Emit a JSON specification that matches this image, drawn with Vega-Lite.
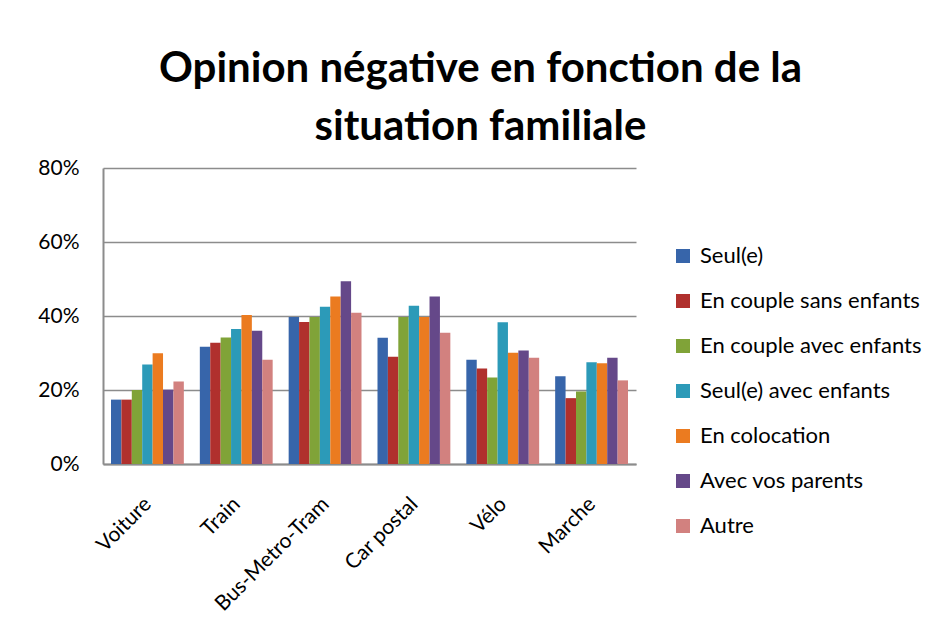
{
  "$schema": "https://vega.github.io/schema/vega-lite/v6.json",
  "width": 533,
  "height": 296,
  "autosize": {"type": "none"},
  "padding": {"left": 103, "top": 168, "right": 309, "bottom": 174},
  "background": "white",
  "title": {
    "text": ["Opinion négative en fonction de la", "situation familiale"],
    "font": "Lato",
    "fontSize": 42,
    "fontWeight": "bold",
    "color": "black",
    "anchor": "middle",
    "frame": "group",
    "dx": 111,
    "offset": 8,
    "lineHeight": 58
  },
  "data": {
    "values": [
      {"mode": "Voiture", "situation": "Seul(e)", "v": 0.174},
      {"mode": "Voiture", "situation": "En couple sans enfants", "v": 0.174},
      {"mode": "Voiture", "situation": "En couple avec enfants", "v": 0.200},
      {"mode": "Voiture", "situation": "Seul(e) avec enfants", "v": 0.269},
      {"mode": "Voiture", "situation": "En colocation", "v": 0.299},
      {"mode": "Voiture", "situation": "Avec vos parents", "v": 0.201},
      {"mode": "Voiture", "situation": "Autre", "v": 0.223},
      {"mode": "Train", "situation": "Seul(e)", "v": 0.317},
      {"mode": "Train", "situation": "En couple sans enfants", "v": 0.328},
      {"mode": "Train", "situation": "En couple avec enfants", "v": 0.342},
      {"mode": "Train", "situation": "Seul(e) avec enfants", "v": 0.365},
      {"mode": "Train", "situation": "En colocation", "v": 0.403},
      {"mode": "Train", "situation": "Avec vos parents", "v": 0.360},
      {"mode": "Train", "situation": "Autre", "v": 0.282},
      {"mode": "Bus-Metro-Tram", "situation": "Seul(e)", "v": 0.397},
      {"mode": "Bus-Metro-Tram", "situation": "En couple sans enfants", "v": 0.384},
      {"mode": "Bus-Metro-Tram", "situation": "En couple avec enfants", "v": 0.397},
      {"mode": "Bus-Metro-Tram", "situation": "Seul(e) avec enfants", "v": 0.425},
      {"mode": "Bus-Metro-Tram", "situation": "En colocation", "v": 0.453},
      {"mode": "Bus-Metro-Tram", "situation": "Avec vos parents", "v": 0.494},
      {"mode": "Bus-Metro-Tram", "situation": "Autre", "v": 0.409},
      {"mode": "Car postal", "situation": "Seul(e)", "v": 0.341},
      {"mode": "Car postal", "situation": "En couple sans enfants", "v": 0.290},
      {"mode": "Car postal", "situation": "En couple avec enfants", "v": 0.397},
      {"mode": "Car postal", "situation": "Seul(e) avec enfants", "v": 0.428},
      {"mode": "Car postal", "situation": "En colocation", "v": 0.397},
      {"mode": "Car postal", "situation": "Avec vos parents", "v": 0.453},
      {"mode": "Car postal", "situation": "Autre", "v": 0.355},
      {"mode": "Vélo", "situation": "Seul(e)", "v": 0.282},
      {"mode": "Vélo", "situation": "En couple sans enfants", "v": 0.258},
      {"mode": "Vélo", "situation": "En couple avec enfants", "v": 0.234},
      {"mode": "Vélo", "situation": "Seul(e) avec enfants", "v": 0.383},
      {"mode": "Vélo", "situation": "En colocation", "v": 0.301},
      {"mode": "Vélo", "situation": "Avec vos parents", "v": 0.307},
      {"mode": "Vélo", "situation": "Autre", "v": 0.287},
      {"mode": "Marche", "situation": "Seul(e)", "v": 0.237},
      {"mode": "Marche", "situation": "En couple sans enfants", "v": 0.178},
      {"mode": "Marche", "situation": "En couple avec enfants", "v": 0.196},
      {"mode": "Marche", "situation": "Seul(e) avec enfants", "v": 0.275},
      {"mode": "Marche", "situation": "En colocation", "v": 0.272},
      {"mode": "Marche", "situation": "Avec vos parents", "v": 0.287},
      {"mode": "Marche", "situation": "Autre", "v": 0.226}
    ]
  },
  "mark": {"type": "bar"},
  "encoding": {
    "x": {
      "field": "mode",
      "type": "nominal",
      "sort": ["Voiture", "Train", "Bus-Metro-Tram", "Car postal", "Vélo", "Marche"],
      "scale": {"paddingInner": 0.18, "paddingOuter": 0.09},
      "axis": {
        "title": null,
        "labelAngle": -45,
        "labelFont": "Lato",
        "labelFontSize": 21,
        "labelColor": "black",
        "labelPadding": 29,
        "labelOffset": -7,
        "labelLimit": 300,
        "ticks": false,
        "domainColor": "#8c8c8c",
        "domainWidth": 2
      }
    },
    "xOffset": {
      "field": "situation",
      "sort": ["Seul(e)", "En couple sans enfants", "En couple avec enfants", "Seul(e) avec enfants", "En colocation", "Avec vos parents", "Autre"],
      "scale": {"paddingInner": 0, "paddingOuter": 0}
    },
    "y": {
      "field": "v",
      "type": "quantitative",
      "scale": {"domain": [0, 0.8], "nice": false},
      "axis": {
        "title": null,
        "format": ".0%",
        "values": [0, 0.2, 0.4, 0.6, 0.8],
        "labelFont": "Lato",
        "labelFontSize": 21,
        "labelColor": "black",
        "labelPadding": 24,
        "ticks": false,
        "domainColor": "#8c8c8c",
        "domainWidth": 2,
        "gridColor": "#8c8c8c",
        "gridWidth": 1.5
      }
    },
    "color": {
      "field": "situation",
      "type": "nominal",
      "sort": ["Seul(e)", "En couple sans enfants", "En couple avec enfants", "Seul(e) avec enfants", "En colocation", "Avec vos parents", "Autre"],
      "scale": {
        "domain": ["Seul(e)", "En couple sans enfants", "En couple avec enfants", "Seul(e) avec enfants", "En colocation", "Avec vos parents", "Autre"],
        "range": ["#3765AA", "#B0302D", "#80A338", "#2C9AB8", "#EB7B20", "#654889", "#D2817F"]
      },
      "legend": {
        "title": null,
        "orient": "none",
        "legendX": 569,
        "legendY": 77,
        "symbolType": "square",
        "symbolSize": 196,
        "symbolStrokeWidth": 0,
        "labelFont": "Lato",
        "labelFontSize": 22,
        "labelColor": "black",
        "labelOffset": 6,
        "labelLimit": 300,
        "rowPadding": 23
      }
    }
  },
  "config": {"view": {"stroke": null}}
}
